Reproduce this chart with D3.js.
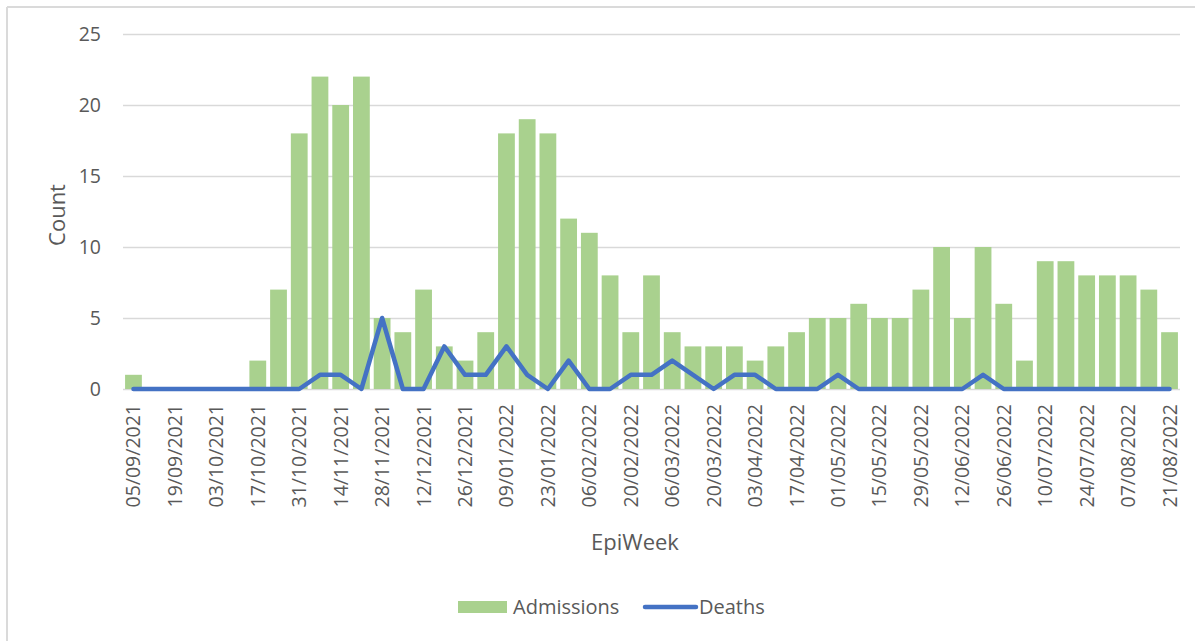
<!DOCTYPE html>
<html>
<head>
<meta charset="utf-8">
<script src="https://cdn.jsdelivr.net/npm/d3@7"></script>
<style>
  html, body { margin: 0; padding: 0; background: #fff; }
  svg { display: block; font-family: "Open Sans", "Noto Sans", sans-serif; }
</style>
</head>
<body>
<svg id="chart" width="1195" height="641"></svg>
<script>
// Weekly epi-weeks (week starting date)
const weeks = [
  "05/09/2021","12/09/2021","19/09/2021","26/09/2021","03/10/2021","10/10/2021",
  "17/10/2021","24/10/2021","31/10/2021","07/11/2021","14/11/2021","21/11/2021",
  "28/11/2021","05/12/2021","12/12/2021","19/12/2021","26/12/2021","02/01/2022",
  "09/01/2022","16/01/2022","23/01/2022","30/01/2022","06/02/2022","13/02/2022",
  "20/02/2022","27/02/2022","06/03/2022","13/03/2022","20/03/2022","27/03/2022",
  "03/04/2022","10/04/2022","17/04/2022","24/04/2022","01/05/2022","08/05/2022",
  "15/05/2022","22/05/2022","29/05/2022","05/06/2022","12/06/2022","19/06/2022",
  "26/06/2022","03/07/2022","10/07/2022","17/07/2022","24/07/2022","31/07/2022",
  "07/08/2022","14/08/2022","21/08/2022"
];

// Hospital admissions per week
const admissions = [
  1, 0, 0, 0, 0, 0, 2, 7, 18, 22, 20, 22,
  5, 4, 7, 3, 2, 4, 18, 19, 18, 12, 11, 8,
  4, 8, 4, 3, 3, 3, 2, 3, 4, 5, 5, 6,
  5, 5, 7, 10, 5, 10, 6, 2, 9, 9, 8, 8,
  8, 7, 4
];

// Deaths per week
const deaths = [
  0, 0, 0, 0, 0, 0, 0, 0, 0, 1, 1, 0,
  5, 0, 0, 3, 1, 1, 3, 1, 0, 2, 0, 0,
  1, 1, 2, 1, 0, 1, 1, 0, 0, 0, 1, 0,
  0, 0, 0, 0, 0, 1, 0, 0, 0, 0, 0, 0,
  0, 0, 0
];

const yTicks = [0, 5, 10, 15, 20, 25];

const textColor = "#595959";
const gridColor = "#D9D9D9";
const barColor = "#A9D18E";
const lineColor = "#4472C4";

const svg = d3.select("#chart");

// Chart frame (left and top edges of the outer box)
svg.append("line").attr("x1", 7).attr("x2", 7).attr("y1", 7).attr("y2", 641)
  .attr("stroke", "#DADADA").attr("stroke-width", 2);
svg.append("line").attr("x1", 7).attr("x2", 1195).attr("y1", 7).attr("y2", 7)
  .attr("stroke", "#DADADA").attr("stroke-width", 2);

const plot = { left: 123, right: 1180, top: 34, bottom: 389 };

const x = d3.scaleBand()
  .domain(weeks)
  .range([plot.left, plot.right])
  .paddingInner(0.19)
  .paddingOuter(0.1);

const y = d3.scaleLinear()
  .domain([0, 25])
  .range([plot.bottom, plot.top]);

// Y axis with horizontal gridlines
const yAxis = svg.append("g")
  .attr("transform", `translate(${plot.left},0)`)
  .call(d3.axisLeft(y).tickValues(yTicks).tickSize(-(plot.right - plot.left)).tickPadding(22));
yAxis.select(".domain").remove();
yAxis.selectAll(".tick line").attr("stroke", gridColor).attr("stroke-width", 1.5);
yAxis.selectAll(".tick text")
  .attr("fill", textColor)
  .style("font-size", "19.5px")
  .style("font-family", "'Open Sans', sans-serif");

// Admission bars
svg.append("g")
  .selectAll("rect")
  .data(admissions)
  .join("rect")
  .attr("x", (d, i) => x(weeks[i]))
  .attr("y", d => y(d))
  .attr("width", x.bandwidth())
  .attr("height", d => y(0) - y(d))
  .attr("fill", barColor);

// Deaths line
const line = d3.line()
  .x((d, i) => x(weeks[i]) + x.bandwidth() / 2)
  .y(d => y(d));
svg.append("path")
  .datum(deaths)
  .attr("d", line)
  .attr("fill", "none")
  .attr("stroke", lineColor)
  .attr("stroke-width", 4.5)
  .attr("stroke-linejoin", "round")
  .attr("stroke-linecap", "round");

// X axis: every second week labelled, rotated vertically
const xAxis = svg.append("g")
  .attr("transform", `translate(0,${plot.bottom})`)
  .call(d3.axisBottom(x).tickValues(weeks.filter((w, i) => i % 2 === 0)).tickSize(0));
xAxis.select(".domain").remove();
xAxis.selectAll(".tick text")
  .attr("transform", "rotate(-90)")
  .attr("text-anchor", "end")
  .attr("x", -15)
  .attr("y", 0)
  .attr("dy", "0.36em")
  .attr("fill", textColor)
  .style("font-size", "19.5px")
  .style("font-family", "'Open Sans', sans-serif");

// Axis titles
svg.append("text")
  .attr("transform", "translate(65,215) rotate(-90)")
  .attr("text-anchor", "middle")
  .attr("fill", textColor)
  .style("font-size", "22px")
  .text("Count");

svg.append("text")
  .attr("x", 635)
  .attr("y", 550)
  .attr("text-anchor", "middle")
  .attr("fill", textColor)
  .style("font-size", "22px")
  .text("EpiWeek");

// Legend
const legend = svg.append("g");
legend.append("rect")
  .attr("x", 458).attr("y", 601).attr("width", 49).attr("height", 12)
  .attr("fill", barColor);
legend.append("text")
  .attr("x", 513).attr("y", 614)
  .attr("fill", textColor)
  .style("font-size", "20px")
  .text("Admissions");
legend.append("line")
  .attr("x1", 645).attr("x2", 696).attr("y1", 607).attr("y2", 607)
  .attr("stroke", lineColor).attr("stroke-width", 4.5).attr("stroke-linecap", "round");
legend.append("text")
  .attr("x", 699).attr("y", 614)
  .attr("fill", textColor)
  .style("font-size", "20px")
  .text("Deaths");
</script>
</body>
</html>
